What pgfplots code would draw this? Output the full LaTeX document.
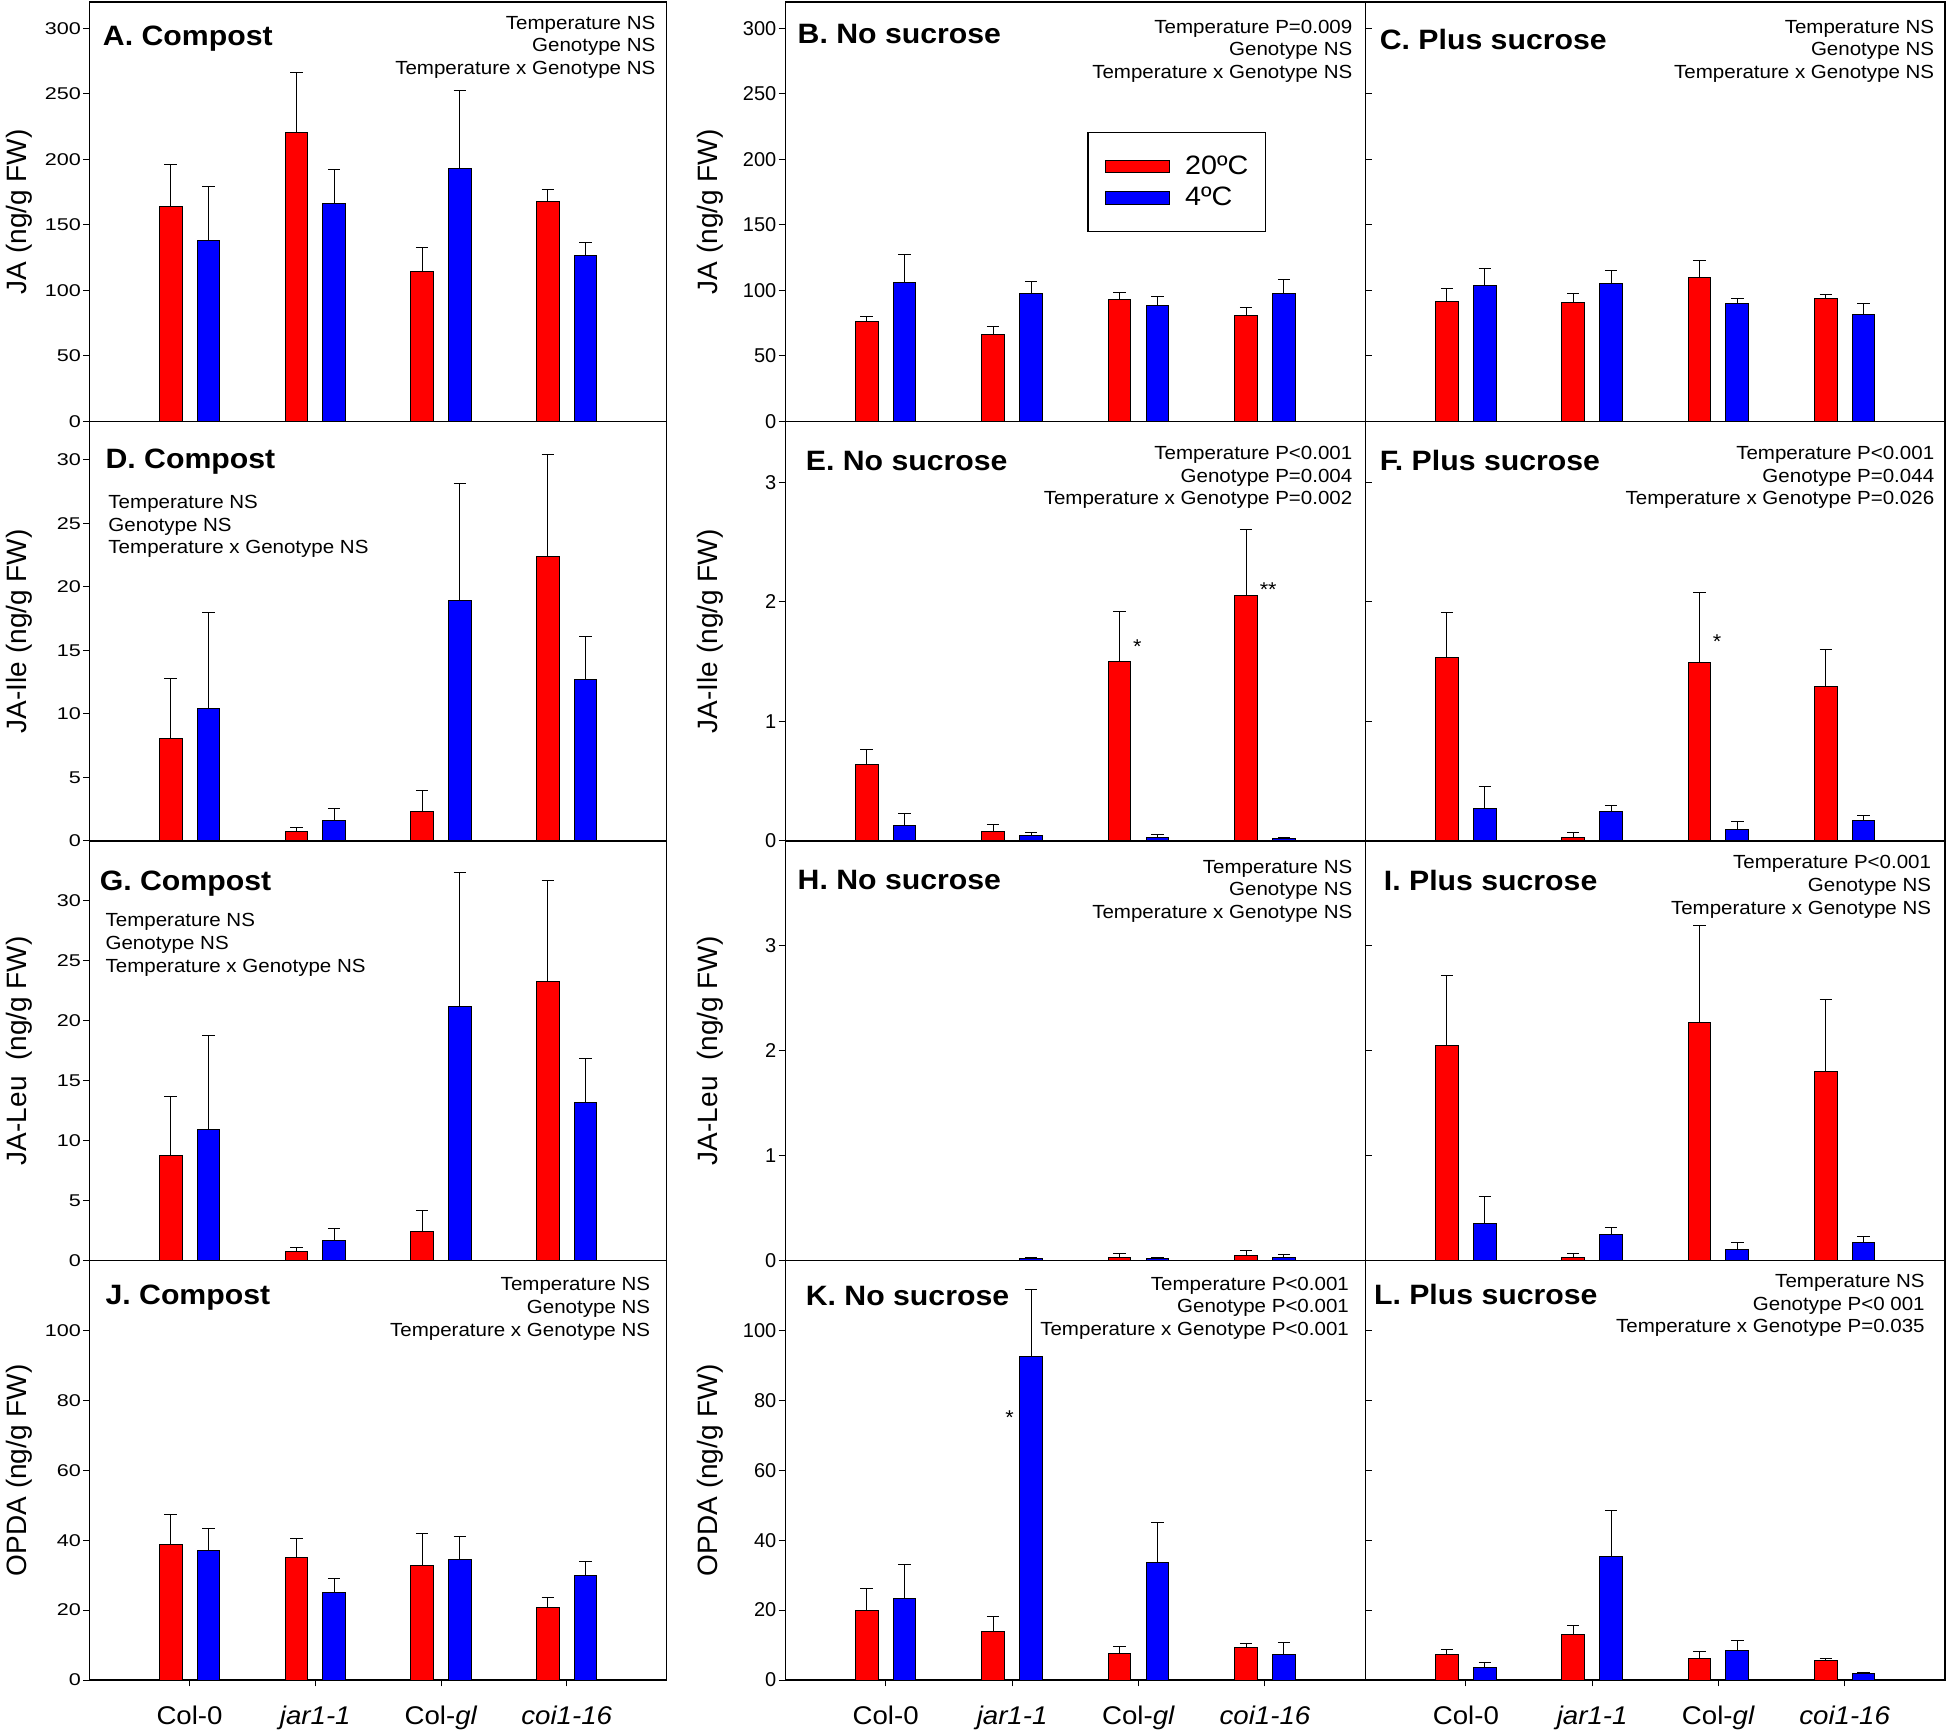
\documentclass[border=0pt]{standalone}
\usepackage{fontspec}
\setmainfont{Liberation Sans}[FakeStretch=1.08]
\newfontfamily\plainsans{Liberation Sans}
\newfontfamily\widesans{Liberation Sans}[FakeStretch=1.27]
\usepackage{pgfplots}
\usepackage{pgfplotstable}
\pgfplotsset{compat=1.18}

% columns: red position, red mean, red SE, blue position, blue mean, blue SE
\pgfplotstableread{
xr r re xb b be
0.85 164.0 32.0 1.15 137.8 41.7
1.85 220.8 45.1 2.15 166.5 25.8
2.85 114.3 18.4 3.15 192.8 59.8
3.85 167.8 9.2 4.15 126.6 10.1
}\tA
\pgfplotstableread{
xr r re xb b be
0.85 76.0 4.3 1.15 106.2 21.4
1.85 66.7 5.6 2.15 97.5 9.5
2.85 92.9 5.6 3.15 88.4 7.3
3.85 81.2 6.1 4.15 98.0 10.2
}\tB
\pgfplotstableread{
xr r re xb b be
0.85 91.7 9.4 1.15 103.4 13.0
1.85 90.7 7.1 2.15 105.2 9.6
2.85 109.8 12.7 3.15 89.9 3.6
3.85 93.7 3.3 4.15 81.7 8.4
}\tC
\pgfplotstableread{
xr r re xb b be
0.85 8.03 4.79 1.15 10.41 7.55
1.85 0.76 0.29 2.15 1.63 0.91
2.85 2.31 1.65 3.15 18.88 9.23
3.85 22.34 8.03 4.15 12.69 3.39
}\tD
\pgfplotstableread{
xr r re xb b be
0.85 0.641 0.123 1.15 0.131 0.098
1.85 0.078 0.061 2.15 0.050 0.025
2.85 1.500 0.421 3.15 0.033 0.020
3.85 2.052 0.555 4.15 0.017 0.016
}\tE
\pgfplotstableread{
xr r re xb b be
0.85 1.539 0.374 1.15 0.270 0.182
1.85 0.033 0.034 2.15 0.243 0.050
2.85 1.494 0.589 3.15 0.098 0.061
3.85 1.296 0.310 4.15 0.170 0.047
}\tF
\pgfplotstableread{
xr r re xb b be
0.85 8.72 4.98 1.15 10.89 7.86
1.85 0.75 0.31 2.15 1.70 1.00
2.85 2.40 1.75 3.15 21.23 11.11
3.85 23.31 8.42 4.15 13.20 3.65
}\tG
\pgfplotstableread{
xr r re xb b be
0.85 0.0 0.0 1.15 0.0 0.0
1.85 0.0 0.0 2.15 0.016 0.016
2.85 0.032 0.038 3.15 0.016 0.016
3.85 0.045 0.054 4.15 0.032 0.022
}\tH
\pgfplotstableread{
xr r re xb b be
0.85 2.054 0.663 1.15 0.350 0.258
1.85 0.032 0.038 2.15 0.252 0.060
2.85 2.274 0.920 3.15 0.102 0.067
3.85 1.799 0.688 4.15 0.175 0.051
}\tI
\pgfplotstableread{
xr r re xb b be
0.85 38.8 8.6 1.15 37.0 6.2
1.85 35.0 5.5 2.15 25.0 4.1
2.85 32.8 9.2 3.15 34.4 6.6
3.85 20.7 2.8 4.15 29.8 4.0
}\tJ
\pgfplotstableread{
xr r re xb b be
0.85 20.0 6.2 1.15 23.4 9.6
1.85 13.8 4.3 2.15 92.6 19.2
2.85 7.6 1.9 3.15 33.6 11.5
3.85 9.2 1.2 4.15 7.4 3.4
}\tK
\pgfplotstableread{
xr r re xb b be
0.85 7.3 1.4 1.15 3.6 1.4
1.85 13.0 2.5 2.15 35.4 13.0
2.85 6.2 1.9 3.15 8.4 2.8
3.85 5.7 0.5 4.15 1.8 0.4
}\tL

\newcommand{\titlefont}{\fontsize{14}{16}\selectfont\bfseries}
\newcommand{\statfont}{\fontsize{9.5}{11.3}\selectfont}
\newcommand{\ylabfont}{\plainsans\fontsize{14}{16}\selectfont}

\pgfplotsset{
  /pgf/number format/assume math mode=true,
  panel/.style={
    scale only axis, height=209.75pt, anchor=south west,
    xmin=0.205, xmax=4.795, ymin=0,
    axis line style={line width=0.6pt, black},
    tick pos=left, tick align=outside,
    major tick length=3.2pt,
    major tick style={black, line width=0.5pt},
    xtick=\empty,
    yticklabel style={inner xsep=1pt},
  },
  col1/.style={panel, width=288.55pt,
    yticklabel style={font=\widesans\fontsize{8.5}{10}\selectfont},
    ylabel style={at={(axis description cs:-0.122,0.5)}, anchor=center, font=\ylabfont}},
  col2/.style={panel, width=290.2pt,
    yticklabel style={font=\plainsans\fontsize{10}{12}\selectfont},
    ylabel style={at={(axis description cs:-0.129,0.5)}, anchor=center, font=\ylabfont}},
  col3/.style={panel, width=289.75pt, yticklabels={}, ytick style={xshift=3.2pt}},
  bottomrow/.style={xtick={1,2,3,4},
    xticklabels={Col-0,\textit{jar1-1},Col-\textit{gl},\textit{coi1-16}},
    xticklabel style={font=\fontsize{12.8}{15}\selectfont, inner sep=0pt, yshift=-9.6pt}},
  redbar/.style={ybar, bar width=0.18, bar shift=0pt, fill=red, draw=black, line width=0.5pt,
    error bars/y dir=plus, error bars/y explicit,
    error bars/error bar style={black, line width=0.5pt},
    error bars/error mark options={rotate=90, black, mark size=3.1pt, line width=0.5pt}},
  bluebar/.style={redbar, fill=blue},
  legred/.style={legend image code/.code={\draw[fill=red, draw=black, line width=0.5pt] (0pt,-3.1pt) rectangle (32pt,3.1pt);}},
  legblue/.style={legend image code/.code={\draw[fill=blue, draw=black, line width=0.5pt] (0pt,-3.1pt) rectangle (32pt,3.1pt);}},
}

\newcommand{\bars}[1]{%
  \addplot[redbar, forget plot] table[x=xr, y=r, y error=re] {#1};
  \addplot[bluebar, forget plot] table[x=xb, y=b, y error=be] {#1};
}
\newcommand{\ptitle}[3]{\node[anchor=base west, inner sep=0pt, font=\titlefont] at (rel axis cs:#1,#2) {#3};}
\newcommand{\pstatsR}[3]{\node[anchor=north east, inner sep=0pt, align=right, font=\statfont] at (rel axis cs:#1,#2) {#3};}
\newcommand{\pstatsL}[3]{\node[anchor=north west, inner sep=0pt, align=left, font=\statfont] at (rel axis cs:#1,#2) {#3};}
\newcommand{\sigmark}[3]{\node[inner sep=0pt, font=\fontsize{10}{12}\selectfont, yshift=-2pt] at (axis cs:#1,#2) {#3};}

\begin{document}
\begin{tikzpicture}
\useasboundingbox (0pt,0pt) rectangle (973pt,866.5pt);

% ---------------- Row 1: JA ----------------
\begin{axis}[col1, at={(44.8pt,655.75pt)}, ymax=320, ytick={0,50,...,300}, ylabel={JA (ng/g FW)}]
\bars{\tA}
\ptitle{0.0225}{0.897}{A. Compost}
\pstatsR{0.981}{0.968}{Temperature NS\\Genotype NS\\Temperature x Genotype NS}
\end{axis}

\begin{axis}[col2, at={(392.55pt,655.75pt)}, ymax=320, ytick={0,50,...,300}, ylabel={JA (ng/g FW)},
  legend style={at={(0.5207,0.690)}, anchor=north west, draw=black, line width=0.6pt, fill=white,
    font=\fontsize{13.3}{15}\selectfont, inner xsep=8.5pt, inner ysep=11.6pt, row sep=4.8pt, column sep=7.6pt,
    nodes={inner sep=0pt}},
  legend cell align=left]
\bars{\tB}
\addlegendimage{legred}
\addlegendentry{20ºC}
\addlegendimage{legblue}
\addlegendentry{4ºC}
\ptitle{0.021}{0.902}{B. No sucrose}
\pstatsR{0.978}{0.958}{Temperature P=0.009\\Genotype NS\\Temperature x Genotype NS}
\end{axis}

\begin{axis}[col3, at={(682.75pt,655.75pt)}, ymax=320, ytick={0,50,...,300}]
\bars{\tC}
\ptitle{0.024}{0.886}{C. Plus sucrose}
\pstatsR{0.982}{0.958}{Temperature NS\\Genotype NS\\Temperature x Genotype NS}
\end{axis}

% ---------------- Row 2: JA-Ile ----------------
\begin{axis}[col1, at={(44.8pt,446pt)}, ymax=33, ytick={0,5,...,30}, ylabel={JA-Ile (ng/g FW)}]
\bars{\tD}
\ptitle{0.027}{0.887}{D. Compost}
\pstatsL{0.032}{0.825}{Temperature NS\\Genotype NS\\Temperature x Genotype NS}
\end{axis}

\begin{axis}[col2, at={(392.55pt,446pt)}, ymax=3.51, ytick={0,1,2,3}, ylabel={JA-Ile (ng/g FW)}]
\bars{\tE}
\sigmark{2.99}{1.656}{*}
\sigmark{4.025}{2.139}{**}
\ptitle{0.035}{0.884}{E. No sucrose}
\pstatsR{0.978}{0.942}{Temperature P<0.001\\Genotype P=0.004\\Temperature x Genotype P=0.002}
\end{axis}

\begin{axis}[col3, at={(682.75pt,446pt)}, ymax=3.51, ytick={0,1,2,3}]
\bars{\tF}
\sigmark{2.99}{1.70}{*}
\ptitle{0.024}{0.884}{F. Plus sucrose}
\pstatsR{0.982}{0.942}{Temperature P<0.001\\Genotype P=0.044\\Temperature x Genotype P=0.026}
\end{axis}

% ---------------- Row 3: JA-Leu ----------------
\begin{axis}[col1, at={(44.8pt,236.25pt)}, ymax=35, ytick={0,5,...,30}, ylabel={JA-Leu\ \ (ng/g FW)}]
\bars{\tG}
\ptitle{0.017}{0.882}{G. Compost}
\pstatsL{0.027}{0.828}{Temperature NS\\Genotype NS\\Temperature x Genotype NS}
\end{axis}

\begin{axis}[col2, at={(392.55pt,236.25pt)}, ymax=4, ytick={0,1,2,3}, ylabel={JA-Leu\ \ (ng/g FW)}]
\bars{\tH}
\ptitle{0.021}{0.884}{H. No sucrose}
\pstatsR{0.978}{0.956}{Temperature NS\\Genotype NS\\Temperature x Genotype NS}
\end{axis}

\begin{axis}[col3, at={(682.75pt,236.25pt)}, ymax=4, ytick={0,1,2,3}]
\bars{\tI}
\ptitle{0.031}{0.882}{I. Plus sucrose}
\pstatsR{0.9766}{0.966}{Temperature P<0.001\\Genotype NS\\Temperature x Genotype NS}
\end{axis}

% ---------------- Row 4: OPDA ----------------
\begin{axis}[col1, bottomrow, at={(44.8pt,26.5pt)}, ymax=120, ytick={0,20,...,100}, ylabel={OPDA (ng/g FW)}]
\bars{\tJ}
\ptitle{0.027}{0.895}{J. Compost}
\pstatsR{0.972}{0.960}{Temperature NS\\Genotype NS\\Temperature x Genotype NS}
\end{axis}

\begin{axis}[col2, bottomrow, at={(392.55pt,26.5pt)}, ymax=120, ytick={0,20,...,100}, ylabel={OPDA (ng/g FW)}]
\bars{\tK}
\sigmark{1.98}{76.1}{*}
\ptitle{0.035}{0.893}{K. No sucrose}
\pstatsR{0.972}{0.962}{Temperature P<0.001\\Genotype P<0.001\\Temperature x Genotype P<0.001}
\end{axis}

\begin{axis}[col3, bottomrow, at={(682.75pt,26.5pt)}, ymax=120, ytick={0,20,...,100}]
\bars{\tL}
\ptitle{0.014}{0.895}{L. Plus sucrose}
\pstatsR{0.9655}{0.968}{Temperature NS\\Genotype P<0 001\\Temperature x Genotype P=0.035}
\end{axis}

\end{tikzpicture}
\end{document}
